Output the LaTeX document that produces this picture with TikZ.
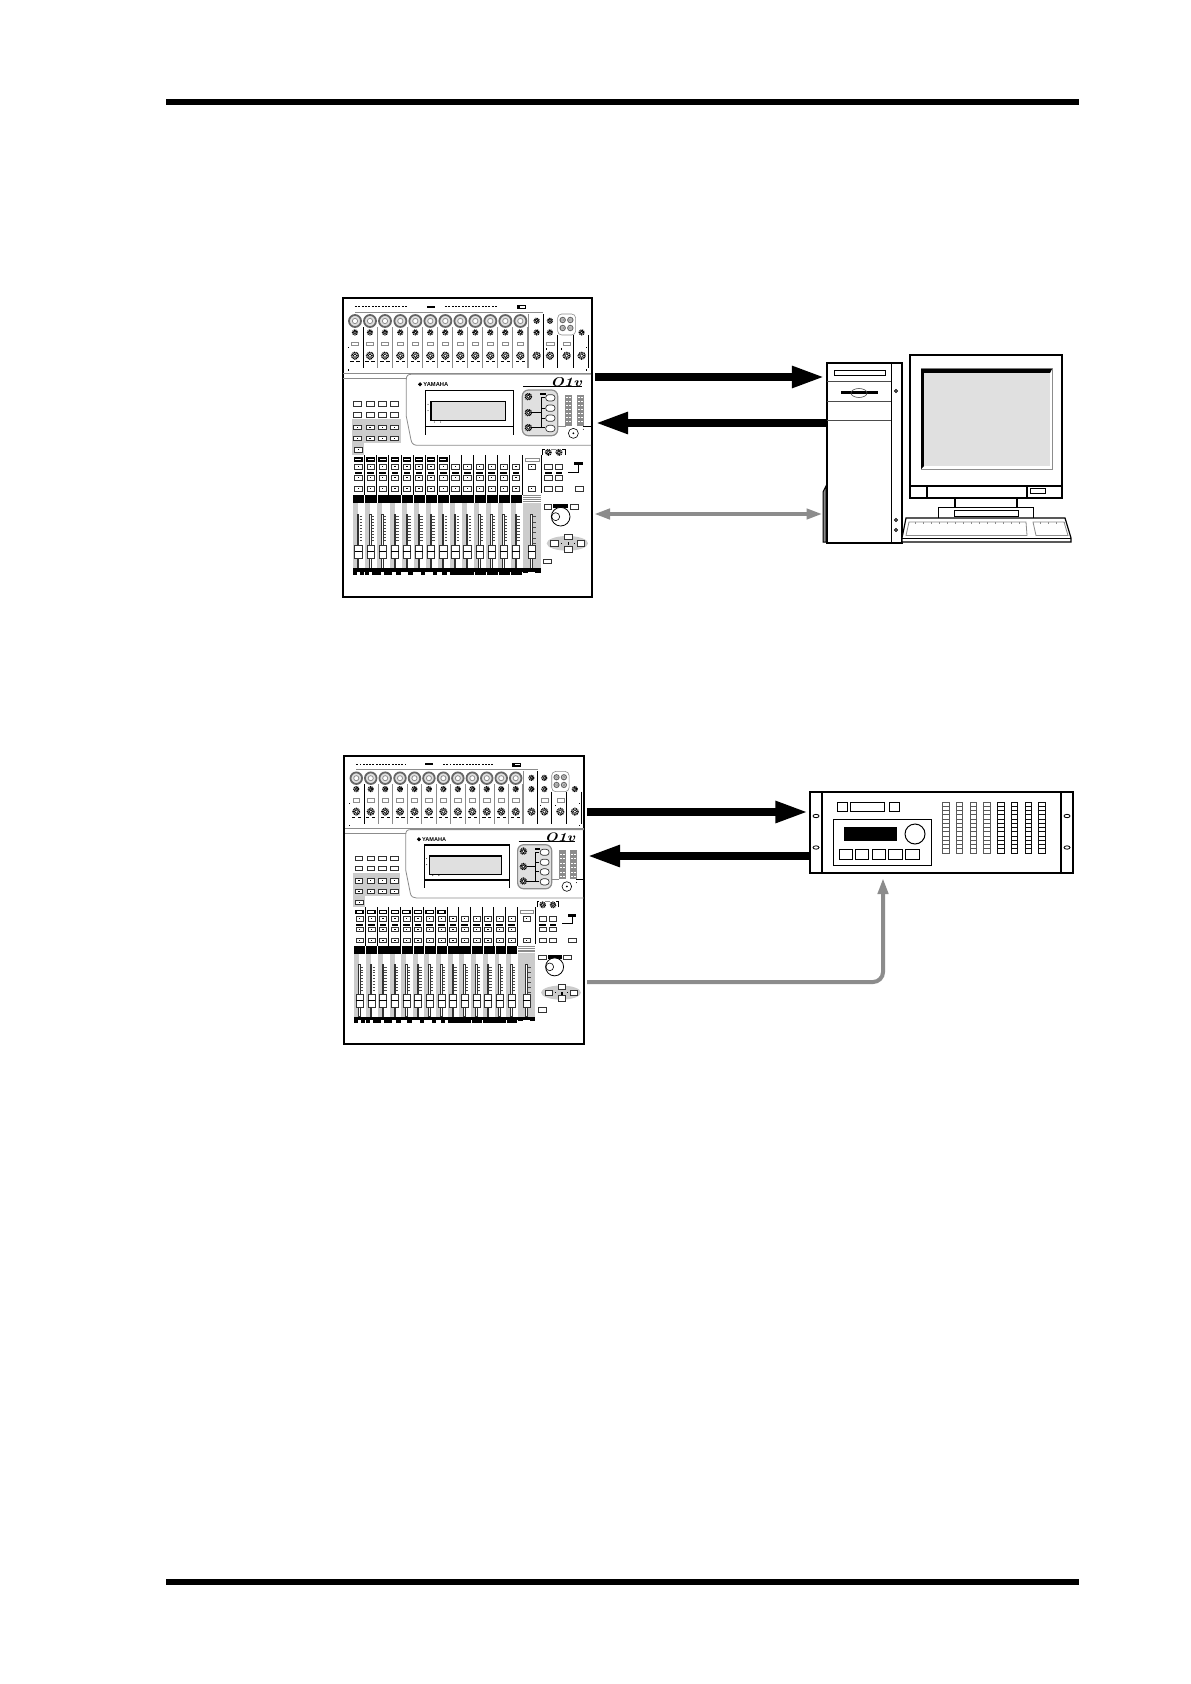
\documentclass[tikz,border=0pt]{standalone}
\usepackage{fontspec}
\setsansfont{Liberation Sans}
\usetikzlibrary{arrows.meta}
\definecolor{gA}{gray}{0.80}
\definecolor{gB}{gray}{0.55}
\definecolor{gC}{gray}{0.88}
\tikzset{
  rule/.style={fill=black,draw=none},
  bigarrow/.style={line width=4pt,black,-{Triangle[length=16.5pt,width=10pt]}},
  greyarrow/.style={line width=2pt,gB,-{Triangle[length=8pt,width=5pt]}},
  greyboth/.style={line width=2pt,gB,{Triangle[length=8pt,width=5pt]}-{Triangle[length=8pt,width=5pt]}},
  device/.style={draw=black,line width=1pt,fill=white},
  thin1/.style={draw=black,line width=.5pt},
  frameM/.style={draw=black,line width=1pt},
  btn/.style={draw=black!80,line width=.35pt,fill=white},
  bigknob/.style={draw=black!60,line width=.9pt,fill=gC},
  smknob/.style={draw=black,line width=.7pt,fill=white},
  sep/.style={draw=gB,line width=.3pt},
  sepk/.style={draw=black,line width=.4pt},
}
% a knurled knob: a broken ring round a plain white cap
\newcommand{\knurl}[3]{%
  \draw[black,line width=.8pt,dash pattern=on .45pt off .35pt] (#1,#2) circle (#3);
  \draw[black,line width=.3pt,fill=white] (#1,#2) circle (#3*.55);
}
% one mixer, drawn in local coordinates (1 unit = 1/3 px of the larger mixer)
\newcommand{\mixerbody}{%
  % top dotted rows
  \foreach \x in {60,70,...,210} \fill (\x,48) rectangle (\x+6,52);
  \foreach \x in {330,340,...,480} \fill (\x,48) rectangle (\x+6,52);
  \fill (275,47) rectangle (300,53);
  \fill (545,46) rectangle (572,57);
  \fill[white] (555,49) rectangle (570,53);
  \draw[sep] (60,66) -- (625,66);
  % channel strips, upper part
  \foreach \x in {60,105,150,196,241,286,331,376,421,466,511,556}{
    \draw[bigknob] (\x,93) circle (18);
    \draw[draw=gB,line width=.4pt,fill=white] (\x,93) circle (8);
    \knurl{\x}{127}{7}
    \draw[draw=gB,line width=.35pt,fill=white] (\x-10,157) rectangle (\x+10,167);
    \knurl{\x}{197}{10}
    \fill (\x-14,213) rectangle (\x-4,215);
    \fill (\x+4,213) rectangle (\x+14,215);
  }
  \foreach \x in {128,173,218,263,308,353,398,443,488,533,578}
    \draw[sep] (\x,112) -- (\x,235);
  \draw[sepk] (85,112) -- (85,235);
  \foreach \x in {625,668,715,760} \draw[sepk] (\x,135) -- (\x,235);
  \draw[sepk] (625,72) -- (625,135);
  \draw[sep] (580,72) -- (580,235);
  \foreach \x in {605,645}{
    \knurl{\x}{92}{7}
    \knurl{\x}{127}{7}
    \knurl{\x}{197}{10}
  }
  \knurl{695}{197}{10}
  \knurl{740}{197}{10}
  \knurl{740}{127}{7}
  \draw[draw=gB,line width=.35pt,fill=white] (635,157) rectangle (657,167);
  \draw[draw=gB,line width=.35pt,fill=white] (685,157) rectangle (707,167);
  \draw[sep,rounded corners=2] (668,72) rectangle (722,135);
  \foreach \x/\y in {683/90,706/90,683/114,706/114}{
    \draw[bigknob,line width=.5pt] (\x,\y) circle (8);
    \draw[gB,line width=.3pt,fill=white] (\x,\y) circle (3.5);
  }
  \foreach \x/\y in {38/170,752/170,38/238,752/238,632/175,678/175}
    \fill (\x,\y) rectangle (\x+3,\y+4);
  % dividing lines and the panel
  \draw[gB,line width=.4pt] (25,250) -- (768,250);
  \draw[gB,line width=.3pt] (25,265) -- (215,265);
  \draw[gB,line width=.4pt] (768,253) -- (228,253) .. controls (218,253) and (214,258) .. (214,268)
     -- (214,380) -- (228,450) .. controls (230,462) and (238,466) .. (248,466) -- (768,466);
  \draw[line width=.3pt,fill=black] (255,283) circle (5);
  \node[font=\sffamily\bfseries,scale=\mixscale,inner sep=0pt,anchor=west] (yam) at (264,283) {\fontsize{2.9}{3}\selectfont YAMAHA};
  \node[font=\rmfamily\bfseries\itshape,scale=\mixscale,yscale=.8,inner sep=0pt,anchor=east] (logo) at (742,277) {\fontsize{8}{8}\selectfont O1v};
  \draw[line width=.5pt] (565,290) -- (740,290);
  % display
  \draw[line width=.6pt] (271,434) -- (271,301) -- (536,301) -- (536,434);
  \draw[line width=.6pt] (271,410) -- (536,410);
  \draw[line width=.6pt,fill=gC] (288,335) rectangle (511,392);
  \foreach \x/\y in {279/343,279/362,298/396,317/396} \fill (\x,\y) circle (1.5);
  % selector box
  \draw[draw=gB,line width=.6pt,fill=gC,rounded corners=3] (562,300) rectangle (668,437);
  \fill (616,309) rectangle (632,315);
  \foreach \y in {314,345,375,406} \draw[btn,rounded corners=1.5] (632,\y) rectangle (660,\y+19);
  \foreach \y in {320,368,413} \knurl{580}{\y}{9}
  \draw[line width=.5pt] (590,368) -- (618,368) (590,413) -- (618,413) (618,323) -- (618,413) (618,323) -- (630,323) (618,354) -- (630,354) (618,384) -- (630,384) (618,413) -- (630,413);
  % meters
  \foreach \xa in {692,727}{
    \draw[draw=gB,line width=.4pt] (\xa,317) rectangle (\xa+18,405);
    \foreach \y in {320,324,...,404} \draw[gB,line width=.3pt] (\xa,\y) -- (\xa+18,\y);
    \draw[gB,line width=.3pt] (\xa+9,317) -- (\xa+9,405);
  }
  \draw[gB,line width=.4pt] (668,408) -- (692,408);
  \draw[line width=.5pt] (745,408) -- (768,408);
  \draw[thin1,line width=.3pt,fill=white] (715,430) circle (15);
  \fill (715,430) circle (3);
  \fill (745,418) circle (1.5);
  % left buttons
  \fill[gA] (50,387) rectangle (197,460);
  \fill[gA] (50,460) rectangle (88,495);
  \foreach \y in {342,374,412,445}
    \foreach \x in {68,105,142,179}
      \draw[btn] (\x-12,\y-7) rectangle (\x+12,\y+7);
  \foreach \y in {412,445}
    \foreach \x in {68,105,142,179}
      \fill (\x-2,\y-2) rectangle (\x+2,\y);
  \draw[btn] (58,473) rectangle (82,487);
  \fill (68,478) rectangle (72,480);
  % bands
  \fill (54,615) rectangle (561,639);
  \fill[gA] (564,638) rectangle (617,835);
  \foreach \y in {614,620,626,632} \fill[gB] (564,\y) rectangle (617,\y+3);
  % strips
  \foreach \x in {70,107,143,180,216,252,288,325,361,397,434,470,506,543}{
    \fill[gA] (\x-16,639) rectangle (\x-1,835);
    \draw[btn] (\x-11,524) rectangle (\x+11,538);
    \fill (\x-2,529) rectangle (\x+2,531);
    \fill (\x-10,547) rectangle (\x+10,553);
    \draw[btn] (\x-11,556) rectangle (\x+11,570);
    \fill (\x-2,561) rectangle (\x+2,563);
    \draw[btn] (\x-11,590) rectangle (\x+11,604);
    \fill (\x-2,595) rectangle (\x+2,597);
    \draw[draw=black!80,line width=.25pt,fill=white] (\x-3,672) rectangle (\x+1,835);
    \foreach \y in {680,689,...,760} \draw[black!70,line width=.25pt] (\x+4,\y) -- (\x+11,\y);
    \draw[btn] (\x-11,765) rectangle (\x+11,805);
    \draw[line width=.4pt] (\x-11,785) -- (\x+11,785);
  }
  \foreach \x in {70,107,143,180,216,252,288,325}
    \draw[draw=black,line width=.6pt,fill=white] (\x-11,504) rectangle (\x+11,513);
  \foreach \x in {88,125,161,198,234,270,306,343,379,415,452,488,524,561}
    \draw[sepk] (\x,495) -- (\x,615);
  \foreach \x in {88,125,198,235,271,307,343,418,454,490,526} \fill[white] (\x,615) rectangle (\x+1.2,639);
  % master strip
  \draw[draw=gB,line width=.35pt,fill=white] (570,504) rectangle (612,513);
  \draw[btn] (579,524) rectangle (601,538);
  \draw[btn] (579,590) rectangle (601,604);
  \fill (588,595) rectangle (592,597);
  \fill (588,529) rectangle (592,531);
  \draw[draw=black!80,line width=.25pt,fill=white] (587,672) rectangle (592,835);
  \foreach \y in {680,696,...,760} \draw[black!70,line width=.25pt] (594,\y) -- (603,\y);
  \draw[btn] (579,765) rectangle (601,805);
  \draw[line width=.4pt] (579,785) -- (601,785);
  \fill (54,835) rectangle (617,845);
  \foreach \xa/\xb in {54/66,75/88,90/102,112/138,147/172,183/198,219/234,258/271,295/307,322/337,345/417,420/452,455/490,492/526,528/561}
    \fill (\xa,845) rectangle (\xb,855);
  \fill (564,846) rectangle (580,849);
  \fill (600,846) rectangle (617,849);
  % right-hand controls
  \draw[sepk] (618,495) -- (618,610);
  \draw[sepk] (622,495) -- (622,477) -- (630,477);
  \draw[sepk] (690,495) -- (690,477) -- (682,477);
  \draw[sep] (648,477) -- (664,477);
  \knurl{640}{487}{8}
  \knurl{672}{487}{8}
  \foreach \x in {640,672}{
    \draw[btn] (\x-11,524) rectangle (\x+11,538);
    \fill (\x-10,547) rectangle (\x+10,553);
    \draw[btn] (\x-11,556) rectangle (\x+11,570);
    \draw[btn] (\x-11,590) rectangle (\x+11,604);
  }
  \fill (718,516) rectangle (745,524);
  \draw[sepk] (731,524) -- (731,546) -- (700,546);
  \draw[btn] (720,590) rectangle (744,604);
  \draw[btn] (627,643) rectangle (650,657);
  \draw[btn] (705,643) rectangle (729,657);
  \fill (655,643) rectangle (700,655);
  \draw[line width=.4pt,fill=white] (677,680) circle (28);
  \draw[line width=.3pt] (662,680) circle (12);
  \fill[gA] (697,760) ellipse (62 and 22);
  \foreach \x/\y in {658/760,738/760,700/741,700/778}
    \draw[btn] (\x-11,\y-8) rectangle (\x+11,\y+8);
  \fill (698,757) rectangle (702,766);
  \fill (679,759) rectangle (682,762);
  \fill (717,759) rectangle (720,762);
  \draw[btn] (626,807) rectangle (650,821);
}
\begin{document}
\begin{tikzpicture}[x=.5pt,y=-.5pt]
\useasboundingbox (0,0) rectangle (1190,1684);
\fill[white] (0,0) rectangle (1190,1684);
% page rules
\node[rule,minimum width=456.5pt,minimum height=3pt,inner sep=0pt,anchor=north west] (ruletop) at (166,99) {};
\node[rule,minimum width=456.5pt,minimum height=3pt,inner sep=0pt,anchor=north west] (rulebot) at (166,1579) {};

% first mixer
\node[frameM,fill=white,minimum width=124.5pt,minimum height=149.5pt,inner sep=0pt,anchor=north west] (mixA) at (342,297) {};
\begin{scope}[shift={(335,290)},x=.16667pt,y=-.16667pt]
\def\mixscale{1}
\mixerbody
\end{scope}

% second mixer
\node[frameM,fill=white,minimum width=120pt,minimum height=144pt,inner sep=0pt,anchor=north west] (mixB) at (343,755) {};
\begin{scope}[shift={(337,748.3)},x=.1607pt,y=-.1607pt]
\def\mixscale{.96}
\mixerbody
\end{scope}

% tower
\node[device,minimum width=37.5pt,minimum height=89.5pt,inner sep=0pt,anchor=north west] (tower) at (825.5,362.5) {};
\draw[thin1] (891,363) -- (891,542);
\draw[thin1,draw=black!70] (827,382) -- (891,382) (827,402) -- (891,402) (827,421) -- (891,421);
\draw[thin1] (834,371) rectangle (885,376);
\draw[line width=1.5pt] (841,393) -- (878,393);
\draw[draw=black!70,line width=.3pt] (859,393) ellipse (8 and 4.5);
\foreach \y in {391,520,530} \draw[line width=.4pt] (896,\y) circle (1.5);
\draw[thin1,fill=gB] (823,542) -- (823,492) -- (826,486) -- (826,542) -- cycle;

% monitor
\node[device,minimum width=76pt,minimum height=71pt,inner sep=0pt,anchor=north west] (monitor) at (909,354.5) {};
\draw[line width=.6pt] (910,486) -- (1061,486) (927,486) -- (927,497) (1027,486) -- (1027,497);
\draw[line width=.4pt] (1030,488) rectangle (1045,493);
\draw[draw=gB,line width=.5pt] (921,369) rectangle (1052,469);
\fill (921,369) -- (1052,369) -- (1050,373) -- (924,373) -- (924,466) -- (921,469) -- cycle;
\fill[gC] (924,373) rectangle (1050,466);
\draw[line width=.7pt] (955,497) -- (955,507) (1017,497) -- (1017,507);
\draw[thin1] (938,507) rectangle (1033,518);
\draw[thin1] (954,510) rectangle (1018,516);
% keyboard
\draw[thin1,line width=.6pt,fill=white] (906,518) -- (1065,518) -- (1071,538) -- (1071,542) -- (902,542) -- (902,538) -- cycle;
\draw[thin1] (902,538) -- (1071,538);
\draw[draw=gB,line width=.4pt] (909,522) -- (1026,522) -- (1027,535.5) -- (906,535.5) -- cycle;
\draw[draw=gB,line width=.4pt] (1033,522) -- (1064,522) -- (1068,535.5) -- (1036,535.5) -- cycle;
\foreach \x in {915,923,...,1024} \draw[line width=.3pt,gB] (\x,522) -- (\x,524);
\foreach \x in {1040,1048,...,1064} \draw[line width=.3pt,gB] (\x,522) -- (\x,524);

% rack unit
\node[device,minimum width=131.5pt,minimum height=40.5pt,inner sep=0pt,anchor=north west] (rack) at (809,791) {};
\draw[line width=1pt] (822,792) -- (822,873) (1061,792) -- (1061,873);
\foreach \x in {816,1067} \foreach \y in {816,847.5} \draw[line width=.4pt] (\x,\y) ellipse (3 and 1.7);
\draw[thin1] (837,802) rectangle (847,811.5) (850,802) rectangle (884,811.5) (889,802) rectangle (899,811.5);
\draw[thin1] (833,819) rectangle (931,865);
\fill (844,827) rectangle (897,841);
\draw[thin1] (915,834) circle (10);
\foreach \xa/\xb in {839/852,855/868,872/885,888/902,905/919} \draw[thin1] (\xa,849) rectangle (\xb,859);
\foreach \i in {0,...,7}{
  \pgfmathsetmacro\mx{942.5+13.75*\i}
  \pgfmathsetmacro\shade{\i<4 ? 65 : 95}
  \foreach \s in {0,...,11} \draw[draw=black!\shade!white,line width=.4pt] (\mx,802+\s*4.25) rectangle ++(6.5,4.25);
}

% connectors
\coordinate (ya) at (0,377);
\coordinate (yb) at (0,423);
\coordinate (yc) at (0,514);
\coordinate (yd) at (0,812);
\coordinate (ye) at (0,856);
\coordinate (yf) at (0,982);
\coordinate (xf) at (883,0);
\draw[bigarrow,shorten <=1pt,shorten >=.3pt] (mixA.east |- ya) -- (tower.west |- ya);
\draw[bigarrow,shorten >=1pt] (tower.west |- yb) -- (mixA.east |- yb);
\draw[greyboth,shorten <=.5pt,shorten >=1.5pt] (mixA.east |- yc) -- (tower.west |- yc);
\draw[bigarrow,shorten <=1pt,shorten >=.3pt] (mixB.east |- yd) -- (rack.west |- yd);
\draw[bigarrow,shorten >=1pt] (rack.west |- ye) -- (mixB.east |- ye);
\draw[greyarrow,rounded corners=5pt,shorten <=1pt,shorten >=2pt] (mixB.east |- yf) -- (xf |- yf) -- (xf |- rack.south);
\end{tikzpicture}
\end{document}
